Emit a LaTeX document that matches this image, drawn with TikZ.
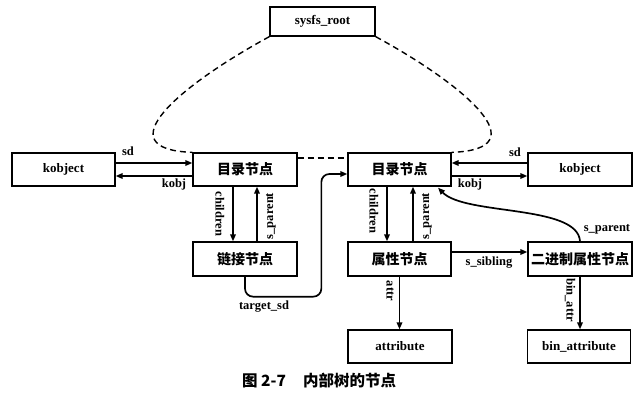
\documentclass[tikz,border=0pt]{standalone}
\usepackage{fontspec}
\setmainfont{Liberation Serif}
\newfontfamily\cjk{Noto Sans CJK SC}
\usetikzlibrary{arrows.meta}

\tikzset{
  box/.style={draw, line width=1.3pt, minimum width=104pt, minimum height=33pt,
    inner sep=0pt, font=\fontsize{13}{15}\selectfont\bfseries},
  cjkbox/.style={box, font=\fontsize{14}{16}\cjk\bfseries},
  arr/.style={line width=1.7pt, -{Triangle[length=7pt,width=5.5pt]}},
  dashlink/.style={line width=1.4pt, dash pattern=on 6pt off 4pt},
  lbl/.style={inner sep=0pt, font=\fontsize{12.5}{14}\selectfont\bfseries},
}

\begin{document}
\begin{tikzpicture}[x=1pt, y=-1pt]
  \useasboundingbox (0,0) rectangle (637,401);
  \fill[white] (0,0) rectangle (637,401);

  % nodes
  \node[box, minimum width=105pt, minimum height=29pt] (root) at (322.5,21.5) {sysfs\_root};
  \node[box, minimum width=103pt] (kobjL) at (63.5,169.5) {kobject};
  \node[cjkbox] (dirL) at (245,169.5) {目录节点};
  \node[cjkbox, minimum height=34pt] (linkN) at (245,259) {链接节点};
  \node[cjkbox, minimum width=103pt] (dirR) at (399.5,169.5) {目录节点};
  \node[box] (kobjR) at (580,169.5) {kobject};
  \node[cjkbox, minimum width=103pt, minimum height=34pt] (attrN) at (399.5,259) {属性节点};
  \node[cjkbox, minimum height=34pt] (binN) at (580,259) {二进制属性节点};
  \node[box] (attrib) at (400,346.5) {attribute};
  \node[box, minimum width=103pt] (binattr) at (579,346.5) {bin\_attribute};

  % dashed links from the root and between the directory nodes
  \draw[dashlink] (root.south west) .. controls +(-90,49) and +(-88,-3) .. (dirL.north west);
  \draw[dashlink] (root.south east) .. controls +(90,49) and +(88,-3) .. (dirR.north east);
  \draw[dashlink] ([yshift=11.5pt]dirL.east) -- ([yshift=11.5pt]dirR.west);

  % left group
  \draw[arr] ([yshift=6.5pt]kobjL.east) -- ([yshift=6.5pt]dirL.west);
  \draw[arr] ([yshift=-6.5pt]dirL.west) -- ([yshift=-6.5pt]kobjL.east);
  \draw[arr] ([xshift=-12pt]dirL.south) -- ([xshift=-12pt]linkN.north);
  \draw[arr] ([xshift=12pt]linkN.north) -- ([xshift=12pt]dirL.south);
  \draw[arr, rounded corners=8pt] (linkN.south) -- ++(0,20)
    -| ([xshift=-26pt,yshift=-4.5pt]dirR.west) -- ([yshift=-4.5pt]dirR.west);

  % right group
  \draw[arr] ([yshift=6.5pt]kobjR.west) -- ([yshift=6.5pt]dirR.east);
  \draw[arr] ([yshift=-6.5pt]dirR.east) -- ([yshift=-6.5pt]kobjR.west);
  \draw[arr] ([xshift=-12.5pt]dirR.south) -- ([xshift=-12.5pt]attrN.north);
  \draw[arr] ([xshift=13.5pt]attrN.north) -- ([xshift=13.5pt]dirR.south);
  \draw[arr] ([yshift=7pt]attrN.east) -- ([yshift=7pt]binN.west);
  \draw[arr] (binN.north) .. controls +(-2,-37) and ([xshift=65.5pt,yshift=-29pt]dirR.south)
    .. ([xshift=38.5pt,yshift=-1pt]dirR.south);
  \draw[arr] (attrN.south) -- (attrN.south |- attrib.north);
  \draw[arr] (binN.south) -- (binN.south |- binattr.north);

  % connector labels
  \node[lbl] (lsdL) at (128,151) {sd};
  \node[lbl] (lkobjL) at (174,184) {kobj};
  \node[lbl, rotate=-90] (lchL) at (220,214) {children};
  \node[lbl, rotate=90] (lspL) at (271,216) {s\_parent};
  \node[lbl] (ltsd) at (264,307) {target\_sd};
  \node[lbl] (lsdR) at (515,152) {sd};
  \node[lbl] (lkobjR) at (470,184) {kobj};
  \node[lbl, rotate=-90] (lchR) at (374,211) {children};
  \node[lbl, rotate=90] (lspR) at (427,216) {s\_parent};
  \node[lbl] (lsib) at (489,263) {s\_sibling};
  \node[lbl] (lspB) at (607,229) {s\_parent};
  \node[lbl, rotate=-90] (lattr) at (390,291) {attr};
  \node[lbl, rotate=-90] (lbattr) at (570,300) {bin\_attr};

  % caption
  \node[anchor=west, inner sep=0pt, font=\fontsize{15.5}{17}\cjk\bfseries] (cap) at (242,381)
    {图 2-7\hspace{17pt}内部树的节点};
\end{tikzpicture}
\end{document}
